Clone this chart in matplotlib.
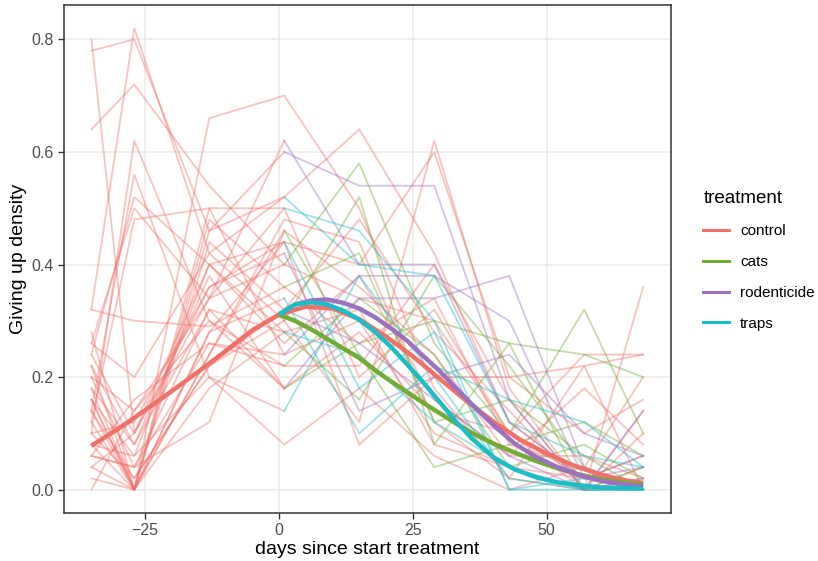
import numpy as np
import matplotlib.pyplot as plt
from matplotlib.lines import Line2D

plt.rcParams['font.family'] = ['Liberation Sans', 'DejaVu Sans']

# sampling days of the survey
days = [-35, -27, -13, 1, 15, 29, 43, 57, 68]

# giving up density per site (control sites: whole series)
control_sites = [
    [0.78, 0.80, 0.46, 0.52, 0.64, 0.42, 0.12, 0.02, 0.00],
    [0.80, 0.10, 0.36, 0.44, 0.40, 0.60, 0.20, 0.22, 0.24],
    [0.64, 0.72, 0.54, 0.40, 0.34, 0.30, 0.10, 0.24, 0.24],
    [0.32, 0.82, 0.42, 0.30, 0.12, 0.62, 0.18, 0.00, 0.36],
    [0.28, 0.00, 0.66, 0.70, 0.50, 0.18, 0.02, 0.22, 0.00],
    [0.10, 0.62, 0.30, 0.22, 0.22, 0.40, 0.16, 0.00, 0.14],
    [0.14, 0.56, 0.20, 0.08, 0.18, 0.06, 0.00, 0.04, 0.20],
    [0.22, 0.00, 0.28, 0.44, 0.08, 0.20, 0.20, 0.10, 0.16],
    [0.06, 0.04, 0.12, 0.46, 0.36, 0.24, 0.06, 0.06, 0.02],
    [0.12, 0.48, 0.50, 0.24, 0.30, 0.10, 0.04, 0.02, 0.06],
    [0.02, 0.00, 0.44, 0.32, 0.48, 0.28, 0.14, 0.00, 0.10],
    [0.18, 0.08, 0.38, 0.18, 0.28, 0.14, 0.10, 0.00, 0.04],
    [0.32, 0.30, 0.29, 0.36, 0.26, 0.34, 0.08, 0.04, 0.00],
    [0.08, 0.00, 0.24, 0.48, 0.44, 0.12, 0.02, 0.00, 0.02],
    [0.24, 0.52, 0.40, 0.26, 0.38, 0.16, 0.06, 0.18, 0.08],
    [0.00, 0.14, 0.34, 0.50, 0.20, 0.32, 0.10, 0.02, 0.00],
    [0.16, 0.00, 0.18, 0.28, 0.32, 0.08, 0.04, 0.00, 0.00],
]

# treatment sites: before day 1 they are drawn as control
cats_sites = [
    [0.24, 0.10, 0.34, 0.40, 0.58, 0.26, 0.10, 0.32, 0.10],
    [0.10, 0.02, 0.22, 0.30, 0.52, 0.08, 0.26, 0.24, 0.20],
    [0.16, 0.06, 0.40, 0.28, 0.16, 0.38, 0.22, 0.04, 0.00],
    [0.04, 0.00, 0.24, 0.46, 0.24, 0.04, 0.08, 0.12, 0.06],
    [0.20, 0.14, 0.30, 0.18, 0.26, 0.30, 0.26, 0.00, 0.04],
    [0.12, 0.00, 0.48, 0.36, 0.42, 0.12, 0.16, 0.06, 0.00],
    [0.06, 0.04, 0.26, 0.22, 0.34, 0.24, 0.04, 0.08, 0.02],
]
rodenticide_sites = [
    [0.26, 0.50, 0.34, 0.62, 0.40, 0.40, 0.12, 0.02, 0.06],
    [0.16, 0.00, 0.46, 0.60, 0.54, 0.54, 0.16, 0.00, 0.14],
    [0.06, 0.16, 0.26, 0.24, 0.38, 0.38, 0.30, 0.02, 0.04],
    [0.20, 0.04, 0.32, 0.18, 0.34, 0.34, 0.38, 0.04, 0.00],
    [0.10, 0.12, 0.36, 0.42, 0.14, 0.20, 0.24, 0.10, 0.06],
    [0.14, 0.02, 0.22, 0.32, 0.26, 0.16, 0.06, 0.00, 0.02],
]
traps_sites = [
    [0.18, 0.00, 0.50, 0.50, 0.46, 0.30, 0.00, 0.00, 0.00],
    [0.26, 0.20, 0.42, 0.52, 0.40, 0.38, 0.12, 0.06, 0.04],
    [0.08, 0.06, 0.20, 0.14, 0.38, 0.20, 0.02, 0.00, 0.00],
    [0.14, 0.00, 0.28, 0.34, 0.10, 0.22, 0.16, 0.12, 0.04],
    [0.04, 0.10, 0.40, 0.44, 0.18, 0.28, 0.00, 0.02, 0.00],
    [0.22, 0.08, 0.32, 0.28, 0.24, 0.12, 0.04, 0.00, 0.00],
]

# fitted curves
control_fit_days = [-35, -30, -25, -20, -15, -10, -5, 0, 5, 10, 15, 20, 25, 30, 35, 40, 45, 50, 55, 60, 65, 68]
control_fit = [0.078, 0.108, 0.141, 0.175, 0.210, 0.246, 0.283, 0.311, 0.325, 0.322, 0.303, 0.272, 0.237,
               0.197, 0.158, 0.121, 0.089, 0.064, 0.043, 0.027, 0.016, 0.012]
treat_fit_days = [0, 3, 6, 9, 12, 15, 18, 21, 24, 27, 30, 33, 36, 40, 44, 48, 52, 56, 60, 64, 68]
cats_fit = [0.311, 0.300, 0.285, 0.268, 0.251, 0.234, 0.212, 0.192, 0.173, 0.154, 0.136, 0.118, 0.101,
            0.082, 0.066, 0.051, 0.038, 0.027, 0.019, 0.013, 0.009]
rodenticide_fit = [0.311, 0.329, 0.336, 0.338, 0.332, 0.322, 0.306, 0.286, 0.264, 0.237, 0.211, 0.181,
                   0.152, 0.115, 0.082, 0.058, 0.040, 0.026, 0.016, 0.010, 0.006]
traps_fit = [0.311, 0.329, 0.333, 0.329, 0.318, 0.302, 0.280, 0.253, 0.222, 0.190, 0.156, 0.122,
             0.091, 0.058, 0.036, 0.022, 0.013, 0.008, 0.004, 0.003, 0.002]

treatments = ['control', 'cats', 'rodenticide', 'traps']
colors = {'control': '#F0716A', 'cats': '#72AB36', 'rodenticide': '#9C71BF', 'traps': '#1CBDC6'}

fig = plt.figure(figsize=(8.18, 5.61), dpi=100)
ax = fig.add_axes([0.078, 0.086, 0.742, 0.905])

thin = dict(lw=1.3, alpha=0.42, solid_joinstyle='miter')
for site in control_sites:
    ax.plot(days, site, color=colors['control'], **thin)
for name, sites in [('cats', cats_sites), ('rodenticide', rodenticide_sites), ('traps', traps_sites)]:
    for site in sites:
        ax.plot(days[:4], site[:4], color=colors['control'], **thin)
        ax.plot(days[3:], site[3:], color=colors[name], **thin)

thick = dict(lw=3.2, solid_capstyle='butt')
ax.plot(control_fit_days, control_fit, color=colors['control'], **thick)
ax.plot(treat_fit_days, cats_fit, color=colors['cats'], **thick)
ax.plot(treat_fit_days, rodenticide_fit, color=colors['rodenticide'], **thick)
ax.plot(treat_fit_days, traps_fit, color=colors['traps'], **thick)

ax.set_xlim(-40.15, 73.15)
ax.set_ylim(-0.041, 0.861)
ax.set_xticks([-25, 0, 25, 50])
ax.set_xticklabels(['\u221225', '0', '25', '50'])
ax.set_yticks([0.0, 0.2, 0.4, 0.6, 0.8])
ax.set_yticklabels(['0.0', '0.2', '0.4', '0.6', '0.8'])
ax.grid(True, color='#EBEBEB', lw=1.1)
ax.set_axisbelow(True)
for s in ax.spines.values():
    s.set_color('#333333')
    s.set_linewidth(1.1)
ax.tick_params(colors='#333333', labelcolor='#4D4D4D', labelsize=11.5, length=4, width=1)
ax.set_xlabel('days since start treatment', fontsize=14, labelpad=2)
ax.set_ylabel('Giving up density', fontsize=14, labelpad=3)

handles = [Line2D([], [], color=colors[t], lw=2.2) for t in treatments]
leg = fig.legend(handles, treatments, title='treatment', loc='upper left',
                 bbox_to_anchor=(0.843, 0.685), frameon=False, fontsize=11,
                 title_fontsize=13.5, handlelength=1.65, labelspacing=1.1, handletextpad=0.75)
leg._legend_box.align = 'left'

fig.savefig('out.png', dpi=100)
